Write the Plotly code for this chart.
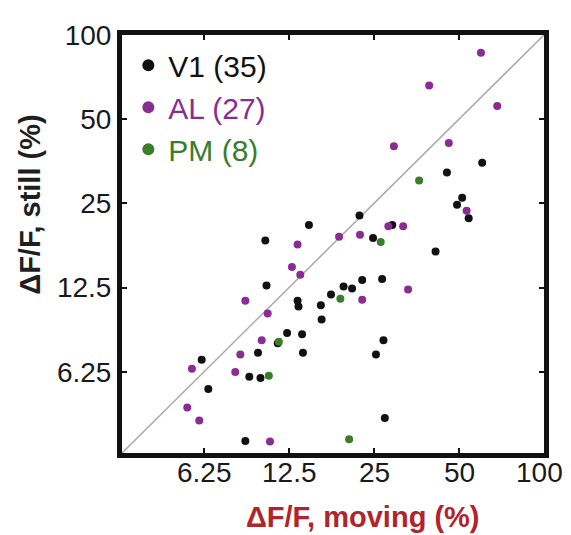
import plotly.graph_objects as go
import math

# ---- data (ΔF/F %, moving vs still) ----
v1_moving = [60.4, 45.3, 51.3, 49.2, 54.1, 22.2, 29.0, 24.8, 41.3, 22.7, 26.7, 19.5,
             20.9, 17.6, 16.2, 16.3, 27.0, 25.4, 27.3, 14.7, 10.3, 10.4, 13.4, 13.5,
             12.3, 13.9, 11.4, 9.7, 14.0, 6.13, 9.04, 9.9, 6.47, 8.75]
v1_still = [34.9, 32.2, 26.2, 24.7, 22.1, 22.6, 20.9, 18.8, 16.8, 13.3, 13.4, 12.6,
            12.4, 11.8, 10.8, 9.6, 8.1, 7.2, 4.27, 20.9, 18.4, 12.7, 11.2, 10.7,
            8.6, 8.5, 7.9, 7.3, 7.3, 6.9, 6.0, 5.93, 5.42, 3.53]

al_moving = [59.8, 39.2, 68.3, 29.4, 46.0, 53.2, 28.1, 31.7, 18.8, 22.3, 33.0, 22.7,
             13.4, 12.8, 13.7, 8.75, 10.5, 10.0, 8.4, 5.66, 8.06, 5.45, 6.01, 10.7]
al_still = [86.4, 66.0, 55.7, 40.0, 41.1, 23.5, 20.7, 20.7, 19.0, 19.3, 12.3, 11.3,
            17.8, 14.8, 13.9, 11.2, 10.1, 8.1, 7.2, 6.4, 6.24, 4.65, 4.18, 3.52]

pm_moving = [36.1, 26.4, 19.0, 11.5, 10.6, 20.4]
pm_still = [30.2, 18.2, 11.4, 8.0, 6.04, 3.58]

series_names = ["V1 (35)", "AL (27)", "PM (8)"]
series_colors = ["#111111", "#8a2d92", "#3a7d2c"]

tick_vals = [6.25, 12.5, 25, 50, 100]
tick_text = ["6.25", "12.5", "25", "50", "100"]
axis_range = [3.2, 100]
diag = [3.2, 100]

FONT = "Liberation Sans, Arial, sans-serif"
TICK_FONT = dict(family=FONT, size=28, color="#1a1a1a")

fig = go.Figure()

fig.add_trace(go.Scatter(x=diag, y=diag, mode="lines",
                         line=dict(color="#a8a8a8", width=1.5),
                         showlegend=False, hoverinfo="skip"))

for name, col, xs, ys in zip(series_names, series_colors,
                             [v1_moving, al_moving, pm_moving],
                             [v1_still, al_still, pm_still]):
    fig.add_trace(go.Scatter(
        x=xs, y=ys, mode="markers",
        marker=dict(color=col, size=8, line=dict(width=0)),
        name=f'<span style="color:{col}">{name}</span>'))

axis_common = dict(
    type="log",
    range=[math.log10(axis_range[0]), math.log10(axis_range[1])],
    tickvals=tick_vals, ticktext=tick_text,
    ticks="inside", ticklen=5, tickwidth=1.5, tickcolor="#111111",
    showline=True, linecolor="#111111", linewidth=5, mirror="allticks",
    showgrid=False, zeroline=False,
    tickfont=TICK_FONT,
)

# x tick labels sit tight under the thick frame, as in the original
x_tick_annotations = [
    dict(text=t, x=math.log10(v), xref="x", y=-0.047, yref="paper",
         xanchor="center", yanchor="middle", showarrow=False, font=TICK_FONT,
         xshift=(-5 if i == len(tick_vals) - 1 else 0))
    for i, (v, t) in enumerate(zip(tick_vals, tick_text))
]

fig.update_layout(
    width=563, height=527,
    margin=dict(l=114, r=27, t=19, b=82),
    paper_bgcolor="white", plot_bgcolor="white",
    xaxis=dict(**axis_common, showticklabels=False),
    yaxis=dict(**axis_common),
    showlegend=True,
    legend=dict(x=0.015, y=0.99, xanchor="left", yanchor="top",
                bgcolor="rgba(0,0,0,0)", borderwidth=0,
                font=dict(family=FONT, size=30, color="#111111"),
                itemsizing="constant", tracegroupgap=0),
    annotations=x_tick_annotations + [
        dict(text="<b>ΔF/F, still (%)</b>", xref="paper", yref="paper",
             x=-0.218, y=0.594, xanchor="center", yanchor="middle",
             textangle=-90, showarrow=False,
             font=dict(family=FONT, size=29, color="#1f1f1f")),
        dict(text="<b>ΔF/F, moving (%)</b>", xref="paper", yref="paper",
             x=0.571, y=-0.153, xanchor="center", yanchor="middle",
             showarrow=False,
             font=dict(family=FONT, size=29, color="#b0242c")),
    ],
)

fig.write_html("out.html")
